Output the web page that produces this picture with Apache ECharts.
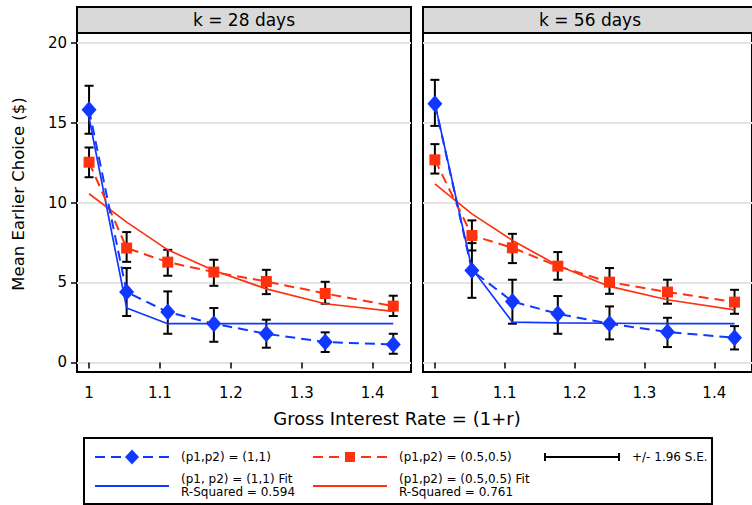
<!DOCTYPE html>
<html><head><meta charset="utf-8">
<script src="https://cdn.jsdelivr.net/npm/echarts@6/dist/echarts.min.js"></script>
<style>html,body{margin:0;padding:0;background:#fff}#chart{width:752px;height:505px}</style>
</head><body><div id="chart"></div>
<script>
// ---- data ----
const rates = [1, 1.053, 1.111, 1.176, 1.25, 1.333, 1.429];
const panelTitles = ['k = 28 days', 'k = 56 days'];
const xTicks = [1, 1.1, 1.2, 1.3, 1.4];
const yTicks = [0, 5, 10, 15, 20];

// k = 28 days
const k28Mean11 = [15.8, 4.4, 3.15, 2.42, 1.79, 1.27, 1.12];
const k28Low11  = [14.3, 2.9, 1.79, 1.29, 0.92, 0.65, 0.54];
const k28High11 = [17.3, 5.9, 4.44, 3.4, 2.67, 1.88, 1.79];
const k28Mean55 = [12.52, 7.15, 6.27, 5.65, 5.06, 4.31, 3.52];
const k28Low55  = [11.58, 6.29, 5.42, 4.79, 4.27, 3.67, 2.9];
const k28High55 = [13.44, 8.15, 7.04, 6.42, 5.79, 5.04, 4.17];
const k28Fit11  = [15.3, 3.4, 2.42, 2.42, 2.42, 2.42, 2.42];
const k28Fit55  = [10.55, 8.77, 7.04, 5.75, 4.6, 3.67, 3.19];

// k = 56 days
const k56Mean11 = [16.17, 5.75, 3.81, 3.04, 2.42, 1.9, 1.54];
const k56Low11  = [14.79, 4.04, 2.42, 1.79, 1.44, 0.96, 0.81];
const k56High11 = [17.67, 7.46, 5.17, 4.15, 3.5, 2.79, 2.27];
const k56Mean55 = [12.67, 7.94, 7.17, 6.02, 5.02, 4.4, 3.77];
const k56Low55  = [11.81, 7.0, 6.21, 5.17, 4.29, 3.67, 3.04];
const k56High55 = [13.65, 8.88, 8.04, 6.9, 5.9, 5.17, 4.54];
const k56Fit11  = [16.2, 5.87, 2.52, 2.47, 2.45, 2.43, 2.42];
const k56Fit55  = [11.17, 9.29, 7.63, 6.06, 4.75, 3.92, 3.29];

const legendLabels = ['(p1,p2) = (1,1)', '(p1,p2) = (0.5,0.5)', '+/- 1.96 S.E.',
  '(p1, p2) = (1,1) Fit\nR-Squared = 0.594', '(p1,p2) = (0.5,0.5) Fit\nR-Squared = 0.761'];
const xTitle = 'Gross Interest Rate = (1+r)';
const yTitle = 'Mean Earlier Choice ($)';

// ---- styling ----
const BLUE = '#1238ff';
const RED = '#ff3210';
const FONT = 'DejaVu Sans';
const DASH = [10, 6];

const panels = [
  {mean11: k28Mean11, low11: k28Low11, high11: k28High11, mean55: k28Mean55, low55: k28Low55, high55: k28High55, fit11: k28Fit11, fit55: k28Fit55},
  {mean11: k56Mean11, low11: k56Low11, high11: k56High11, mean55: k56Mean55, low55: k56Low55, high55: k56High55, fit11: k56Fit11, fit55: k56Fit55}
];

const pair = (ys) => rates.map((x, i) => [x, ys[i]]);
const triple = (lo, hi) => rates.map((x, i) => [x, lo[i], hi[i]]);

function errRender(params, api) {
  const x = api.value(0);
  const lo = api.coord([x, api.value(1)]);
  const hi = api.coord([x, api.value(2)]);
  const w = 4.5;
  const style = {stroke: '#000', lineWidth: 2};
  return {type: 'group', children: [
    {type: 'line', shape: {x1: lo[0], y1: lo[1], x2: hi[0], y2: hi[1]}, style: style},
    {type: 'line', shape: {x1: lo[0] - w, y1: lo[1], x2: lo[0] + w, y2: lo[1]}, style: style},
    {type: 'line', shape: {x1: hi[0] - w, y1: hi[1], x2: hi[0] + w, y2: hi[1]}, style: style}
  ]};
}

const gridLefts = [77, 423];
const GRID_TOP = 33, GRID_W = 334, GRID_H = 339;

const grids = gridLefts.map(l => ({
  left: l, top: GRID_TOP, width: GRID_W, height: GRID_H,
  show: true, borderColor: '#000', borderWidth: 2, backgroundColor: '#fff'
}));

const xAxes = gridLefts.map((l, i) => ({
  type: 'value', gridIndex: i, min: 0.983, max: 1.454,
  axisLine: {show: false},
  splitLine: {show: false},
  axisTick: {show: true, length: 6, inside: false, customValues: xTicks, lineStyle: {color: '#000', width: 1.5}},
  axisLabel: {customValues: xTicks, fontFamily: FONT, fontSize: 15, color: '#000', margin: 13,
    formatter: v => String(v)}
}));

const yAxes = gridLefts.map((l, i) => ({
  type: 'value', gridIndex: i, min: -0.6, max: 20.6,
  axisLine: {show: false},
  splitLine: {show: true, lineStyle: {color: '#e4e4e4', width: 2}},
  axisTick: {show: i === 0, length: 6, customValues: yTicks, lineStyle: {color: '#000', width: 1.5}},
  axisLabel: {show: i === 0, customValues: yTicks, fontFamily: FONT, fontSize: 15, color: '#000', margin: 10}
}));

const series = [];
panels.forEach((p, i) => {
  series.push({type: 'custom', xAxisIndex: i, yAxisIndex: i, renderItem: errRender,
    data: triple(p.low55, p.high55), encode: {x: 0, y: [1, 2]}, z: 2, silent: true});
  series.push({type: 'custom', xAxisIndex: i, yAxisIndex: i, renderItem: errRender,
    data: triple(p.low11, p.high11), encode: {x: 0, y: [1, 2]}, z: 2, silent: true});
  series.push({type: 'line', xAxisIndex: i, yAxisIndex: i, data: pair(p.fit55), showSymbol: false,
    lineStyle: {color: RED, width: 1.7}, z: 3});
  series.push({type: 'line', xAxisIndex: i, yAxisIndex: i, data: pair(p.fit11), showSymbol: false,
    lineStyle: {color: BLUE, width: 1.7}, z: 3});
  series.push({type: 'line', xAxisIndex: i, yAxisIndex: i, data: pair(p.mean55), symbol: 'rect', symbolSize: 11,
    itemStyle: {color: RED}, lineStyle: {color: RED, width: 2, type: DASH}, z: 4});
  series.push({type: 'line', xAxisIndex: i, yAxisIndex: i, data: pair(p.mean11), symbol: 'diamond', symbolSize: [15, 17],
    itemStyle: {color: BLUE}, lineStyle: {color: BLUE, width: 2, type: DASH}, z: 5});
});

// ---- graphic: strip headers, axis titles, legend ----
const txt = (x, y, text, size, extra) => Object.assign({type: 'text', x: x, y: y,
  style: {text: text, fontFamily: FONT, fontSize: size, fill: '#000', align: 'left', verticalAlign: 'middle'}}, extra || {});

const graphic = [];
gridLefts.forEach((l, i) => {
  graphic.push({type: 'rect', shape: {x: l, y: 7, width: GRID_W, height: 26},
    style: {fill: '#d9d9d9', stroke: '#000', lineWidth: 2}, z: 10});
  const t = txt(l + GRID_W / 2, 20, panelTitles[i], 17);
  t.style.align = 'center'; t.z = 11;
  graphic.push(t);
});
const xt = txt(397, 418, xTitle, 18); xt.style.align = 'center'; graphic.push(xt);
const yt = txt(18, 194, yTitle, 16.5, {rotation: Math.PI / 2}); yt.style.align = 'center'; graphic.push(yt);

// legend box
graphic.push({type: 'rect', shape: {x: 84, y: 438, width: 628, height: 66},
  style: {fill: '#fff', stroke: '#000', lineWidth: 2}});
const R1 = 457, R2 = 486;
const diamond = (cx, cy, w, h) => ({type: 'polygon', shape: {points: [[cx, cy - h / 2], [cx + w / 2, cy], [cx, cy + h / 2], [cx - w / 2, cy]]}, style: {fill: BLUE}});
graphic.push({type: 'line', shape: {x1: 95, y1: R1, x2: 169, y2: R1}, style: {stroke: BLUE, lineWidth: 2, lineDash: DASH}});
graphic.push(diamond(132, R1, 14, 15));
graphic.push(txt(181, R1, legendLabels[0], 12));
graphic.push({type: 'line', shape: {x1: 313, y1: R1, x2: 387, y2: R1}, style: {stroke: RED, lineWidth: 2, lineDash: DASH}});
graphic.push({type: 'rect', shape: {x: 345, y: R1 - 5, width: 10, height: 10}, style: {fill: RED}});
graphic.push(txt(399, R1, legendLabels[1], 12));
graphic.push({type: 'line', shape: {x1: 545, y1: R1, x2: 619, y2: R1}, style: {stroke: '#000', lineWidth: 2}});
graphic.push({type: 'line', shape: {x1: 545, y1: R1 - 4, x2: 545, y2: R1 + 4}, style: {stroke: '#000', lineWidth: 2}});
graphic.push({type: 'line', shape: {x1: 619, y1: R1 - 4, x2: 619, y2: R1 + 4}, style: {stroke: '#000', lineWidth: 2}});
graphic.push(txt(632, R1, legendLabels[2], 12));
graphic.push({type: 'line', shape: {x1: 95, y1: R2, x2: 169, y2: R2}, style: {stroke: BLUE, lineWidth: 2}});
const l4 = txt(181, 485.5, legendLabels[3], 12); l4.style.lineHeight = 12.5; graphic.push(l4);
graphic.push({type: 'line', shape: {x1: 313, y1: R2, x2: 387, y2: R2}, style: {stroke: RED, lineWidth: 2}});
const l5 = txt(399, 485.5, legendLabels[4], 12); l5.style.lineHeight = 12.5; graphic.push(l5);

const chart = echarts.init(document.getElementById('chart'), null, {renderer: 'svg'});
chart.setOption({
  backgroundColor: '#fff',
  animation: false,
  grid: grids,
  xAxis: xAxes,
  yAxis: yAxes,
  series: series,
  graphic: graphic
});
</script>
</body></html>
